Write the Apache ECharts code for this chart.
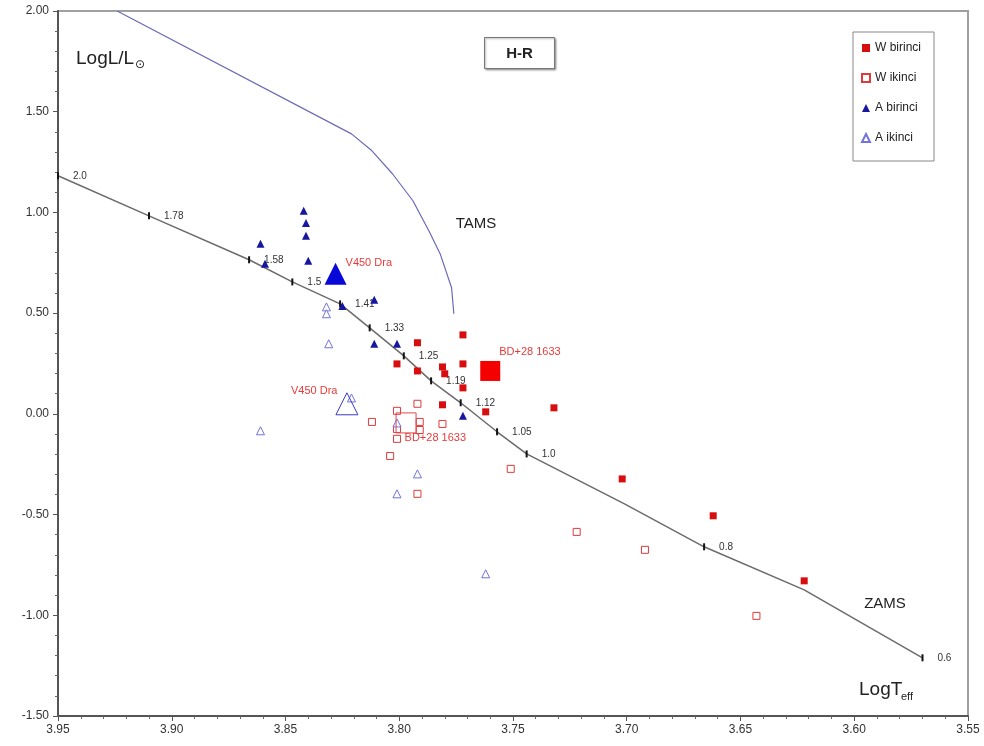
<!DOCTYPE html>
<html>
<head>
<meta charset="utf-8">
<title>H-R</title>
<script src="https://cdn.jsdelivr.net/npm/echarts@6/dist/echarts.min.js"></script>
<style>
  html, body { margin: 0; padding: 0; background: #ffffff; }
  #chart { width: 984px; height: 746px; }
</style>
</head>
<body>
<div id="chart"></div>
<script>
// ZAMS track (log Teff, log L) with stellar mass marks
const zamsT    = [3.950, 3.910, 3.866, 3.847, 3.826, 3.813, 3.798, 3.786, 3.773, 3.757, 3.744, 3.701, 3.666, 3.622, 3.570];
const zamsL    = [1.182, 0.983, 0.765, 0.655, 0.546, 0.427, 0.288, 0.164, 0.055, -0.089, -0.199, -0.447, -0.660, -0.874, -1.211];
const zamsMass = ['2.0', '1.78', '1.58', '1.5', '1.41', '1.33', '1.25', '1.19', '1.12', '1.05', '1.0', '', '0.8', '', '0.6'];

// TAMS track
const tamsT = [3.924, 3.821, 3.812, 3.803, 3.794, 3.787, 3.782, 3.777, 3.776];
const tamsL = [2.000, 1.390, 1.306, 1.192, 1.058, 0.909, 0.794, 0.626, 0.497];

// W-type systems: primary (birinci) and secondary (ikinci) components
const wPrimaryT   = [3.792, 3.801, 3.792, 3.781, 3.780, 3.772, 3.772, 3.772, 3.781, 3.762, 3.732, 3.702, 3.662, 3.622];
const wPrimaryL   = [0.353, 0.248, 0.213, 0.233, 0.199, 0.248, 0.392, 0.129, 0.045, 0.010, 0.030, -0.323, -0.506, -0.829];
const wSecondaryT = [3.792, 3.801, 3.812, 3.791, 3.781, 3.801, 3.791, 3.801, 3.804, 3.792, 3.751, 3.722, 3.692, 3.643];
const wSecondaryL = [0.050, 0.015, -0.040, -0.040, -0.050, -0.075, -0.080, -0.124, -0.209, -0.397, -0.273, -0.586, -0.675, -1.003];

// A-type systems: primary (birinci) and secondary (ikinci) components
const aPrimaryT   = [3.842, 3.841, 3.841, 3.861, 3.859, 3.840, 3.825, 3.811, 3.811, 3.801, 3.772];
const aPrimaryL   = [1.008, 0.948, 0.884, 0.844, 0.745, 0.760, 0.536, 0.566, 0.348, 0.348, -0.010];
const aSecondaryT = [3.832, 3.832, 3.831, 3.861, 3.821, 3.801, 3.792, 3.801, 3.762];
const aSecondaryL = [0.531, 0.497, 0.348, -0.084, 0.079, -0.045, -0.298, -0.397, -0.794];

// Highlighted systems
const starNames      = ['V450 Dra', 'BD+28 1633'];
const starPrimaryT   = [3.828, 3.760];
const starPrimaryL   = [0.695, 0.213];
const starSecondaryT = [3.823, 3.797];
const starSecondaryL = [0.050, -0.045];

// Axis tick labels
const xTicks = ['3.95', '3.90', '3.85', '3.80', '3.75', '3.70', '3.65', '3.60', '3.55'];
const yTicks = ['-1.50', '-1.00', '-0.50', '0.00', '0.50', '1.00', '1.50', '2.00'];

const zip = (a, b) => a.map((v, i) => [v, b[i]]);

const FONT = 'Liberation Sans, Arial, sans-serif';
const chart = echarts.init(document.getElementById('chart'));

const axisCommon = {
  type: 'value',
  splitLine: { show: false },
  axisLine: { show: true, onZero: false, lineStyle: { color: '#555', width: 2 } },
  axisTick: { show: true, length: 5, lineStyle: { color: '#555', width: 1 } },
  minorTick: { show: true, splitNumber: 5, length: 3, lineStyle: { color: '#666', width: 1 } },
  axisLabel: { fontSize: 12, color: '#333', fontFamily: FONT }
};

const starLabel = (pos, offset) => ({
  show: true, position: pos, distance: 5, offset: offset,
  fontSize: 11, color: '#e83a3a', fontFamily: FONT
});

const option = {
  animation: false,
  backgroundColor: '#ffffff',
  textStyle: { fontFamily: FONT },
  grid: { left: 58, right: 16, top: 11, bottom: 30, show: true, borderColor: '#a0a0a0', borderWidth: 2 },
  xAxis: Object.assign({}, axisCommon, {
    min: 3.55, max: 3.95, interval: 0.05, inverse: true,
    axisLabel: Object.assign({}, axisCommon.axisLabel, {
      margin: 8,
      formatter: v => xTicks.find(t => Math.abs(parseFloat(t) - v) < 1e-6) || ''
    })
  }),
  yAxis: Object.assign({}, axisCommon, {
    min: -1.5, max: 2, interval: 0.5,
    axisLabel: Object.assign({}, axisCommon.axisLabel, {
      margin: 9,
      formatter: v => yTicks.find(t => Math.abs(parseFloat(t) - v) < 1e-6) || ''
    })
  }),
  legend: {
    data: ['W birinci', 'W ikinci', 'A birinci', 'A ikinci'],
    orient: 'vertical', left: 853, top: 32,
    itemWidth: 8, itemHeight: 8, itemGap: 18,
    padding: [10, 13, 17, 8],
    borderColor: '#888', borderWidth: 1, backgroundColor: '#fff',
    textStyle: { fontSize: 12, color: '#222', fontFamily: FONT }
  },
  series: [
    {
      name: 'ZAMS', type: 'line', silent: true, z: 2,
      data: zip(zamsT, zamsL).map((p, i) => ({
        value: p,
        symbol: 'rect',
        symbolSize: zamsMass[i] ? [2, 7] : 0,
        label: { show: !!zamsMass[i] }
      })),
      showSymbol: true, showAllSymbol: true,
      itemStyle: { color: '#111', opacity: 1 },
      lineStyle: { color: '#6b6b6b', width: 1.5 },
      label: {
        position: 'right', distance: 14, fontSize: 10, color: '#333', fontFamily: FONT,
        formatter: p => zamsMass[p.dataIndex]
      }
    },
    {
      name: 'TAMS', type: 'line', silent: true, z: 2, showSymbol: false,
      data: zip(tamsT, tamsL),
      lineStyle: { color: '#6a6ab8', width: 1.2 }
    },
    {
      name: 'W birinci', type: 'scatter', symbol: 'rect', symbolSize: 7, z: 4,
      data: zip(wPrimaryT, wPrimaryL),
      itemStyle: { color: '#d80e0e', opacity: 1 }
    },
    {
      name: 'W ikinci', type: 'scatter', symbol: 'rect', symbolSize: 7, z: 3,
      data: zip(wSecondaryT, wSecondaryL),
      itemStyle: { color: '#ffffff', borderColor: '#e03a3a', borderWidth: 1, opacity: 1 }
    },
    {
      name: 'A birinci', type: 'scatter', symbol: 'triangle', symbolSize: 8, z: 4,
      data: zip(aPrimaryT, aPrimaryL),
      itemStyle: { color: '#16169e', opacity: 1 }
    },
    {
      name: 'A ikinci', type: 'scatter', symbol: 'triangle', symbolSize: 8, z: 3,
      data: zip(aSecondaryT, aSecondaryL),
      itemStyle: { color: '#ffffff', borderColor: '#7373dc', borderWidth: 1, opacity: 1 }
    },
    // highlighted systems, drawn with large markers
    {
      name: starNames[0] + ' birinci', type: 'scatter', symbol: 'triangle', symbolSize: 22, z: 5,
      data: [[starPrimaryT[0], starPrimaryL[0]]],
      itemStyle: { color: '#0808d8', opacity: 1 },
      label: Object.assign(starLabel('right', [-6, -11]), { formatter: starNames[0] })
    },
    {
      name: starNames[0] + ' ikinci', type: 'scatter', symbol: 'triangle', symbolSize: 22, z: 5,
      data: [[starSecondaryT[0], starSecondaryL[0]]],
      itemStyle: { color: 'rgba(255,255,255,0)', borderColor: '#3a3ac8', borderWidth: 1, opacity: 1 },
      label: Object.assign(starLabel('left', [7, -13]), { formatter: starNames[0] })
    },
    {
      name: starNames[1] + ' birinci', type: 'scatter', symbol: 'rect', symbolSize: 20, z: 5,
      data: [[starPrimaryT[1], starPrimaryL[1]]],
      itemStyle: { color: '#f40000', opacity: 1 },
      label: Object.assign(starLabel('right', [-6, -19]), { formatter: starNames[1] })
    },
    {
      name: starNames[1] + ' ikinci', type: 'scatter', symbol: 'rect', symbolSize: 20, z: 5,
      data: [[starSecondaryT[1], starSecondaryL[1]]],
      itemStyle: { color: 'rgba(255,255,255,0)', borderColor: '#e04848', borderWidth: 1, opacity: 1 },
      label: Object.assign(starLabel('right', [-17, 15]), { formatter: starNames[1] })
    }
  ],
  graphic: [
    // title box
    {
      type: 'group', left: 484, top: 37,
      children: [
        { type: 'rect', shape: { x: 0, y: 0, width: 70, height: 31 },
          style: { fill: '#fff', stroke: '#777', lineWidth: 1,
                   shadowBlur: 2, shadowOffsetX: 1, shadowOffsetY: 1, shadowColor: 'rgba(0,0,0,0.35)' } },
        { type: 'text', x: 35, y: 16,
          style: { text: 'H-R', fontSize: 15, fontWeight: 'bold', fill: '#222', fontFamily: FONT,
                   align: 'center', verticalAlign: 'middle' } }
      ]
    },
    // axis titles
    { type: 'text', x: 76, y: 59,
      style: { text: 'LogL/L', fontSize: 19, fill: '#222', fontFamily: FONT, verticalAlign: 'middle' } },
    { type: 'text', x: 135, y: 65,
      style: { text: '\u2299', fontSize: 12, fill: '#222', fontFamily: 'DejaVu Sans', verticalAlign: 'middle' } },
    { type: 'text', x: 859, y: 690,
      style: { text: 'LogT', fontSize: 19, fill: '#222', fontFamily: FONT, verticalAlign: 'middle' } },
    { type: 'text', x: 901, y: 697,
      style: { text: 'eff', fontSize: 11, fill: '#222', fontFamily: FONT, verticalAlign: 'middle' } },
    // track names
    { type: 'text', x: 476, y: 224,
      style: { text: 'TAMS', fontSize: 15, fill: '#222', fontFamily: FONT, align: 'center', verticalAlign: 'middle' } },
    { type: 'text', x: 885, y: 604,
      style: { text: 'ZAMS', fontSize: 15, fill: '#222', fontFamily: FONT, align: 'center', verticalAlign: 'middle' } }
  ]
};

chart.setOption(option);
</script>
</body>
</html>
